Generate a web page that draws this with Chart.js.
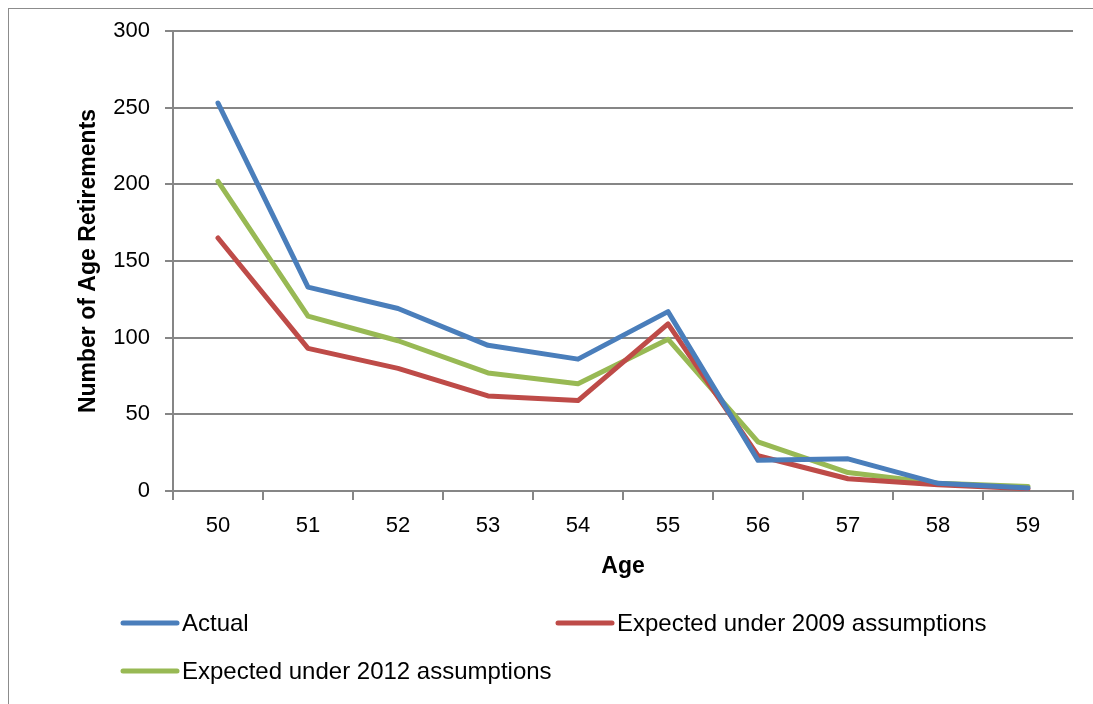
<!DOCTYPE html>
<html>
<head>
<meta charset="utf-8">
<script src="https://cdn.jsdelivr.net/npm/chart.js@4"></script>
<style>
  html, body { margin: 0; padding: 0; background: #ffffff; }
  #wrap { width: 1093px; height: 704px; position: relative; }
</style>
</head>
<body>
<div id="wrap"><canvas id="chart" width="1093" height="704"></canvas></div>
<script>
// Retirements by age: observed counts vs. two sets of actuarial assumptions
const ages = ['50', '51', '52', '53', '54', '55', '56', '57', '58', '59'];
const actual = [253, 133, 119, 95, 86, 117, 20, 21, 5, 2];
const expected2009 = [165, 93, 80, 62, 59, 109, 23, 8, 4, 1.5];
const expected2012 = [202, 114, 98, 77, 70, 99, 32, 12, 5, 3];
const yTicks = [0, 50, 100, 150, 200, 250, 300];

const seriesNames = ['Actual', 'Expected under 2009 assumptions', 'Expected under 2012 assumptions'];
const seriesColors = ['#4a7ebb', '#be4b48', '#98b954'];
const FONT = '"Liberation Sans", Arial, sans-serif';
const GRID = '#868686';

// Outer frame around the whole chart object
const framePlugin = {
  id: 'frame',
  beforeDraw(chart) {
    const ctx = chart.ctx;
    ctx.save();
    ctx.fillStyle = '#ffffff';
    ctx.fillRect(0, 0, chart.width, chart.height);
    ctx.strokeStyle = '#8c8c8c';
    ctx.lineWidth = 1;
    ctx.strokeRect(8.5, 8.5, chart.width + 20, chart.height + 20);
    ctx.restore();
  }
};

// Two-column legend under the axis title
const legendPlugin = {
  id: 'sideLegend',
  afterDraw(chart) {
    const ctx = chart.ctx;
    const slots = [
      { x: 123, y: 623 },
      { x: 558, y: 623 },
      { x: 123, y: 671 }
    ];
    ctx.save();
    ctx.font = '24px ' + FONT;
    ctx.textBaseline = 'middle';
    ctx.textAlign = 'left';
    chart.data.datasets.forEach((ds, i) => {
      const s = slots[i];
      ctx.strokeStyle = ds.borderColor;
      ctx.lineWidth = 5;
      ctx.lineCap = 'round';
      ctx.beginPath();
      ctx.moveTo(s.x, s.y);
      ctx.lineTo(s.x + 54, s.y);
      ctx.stroke();
      ctx.fillStyle = '#000000';
      ctx.fillText(ds.label, s.x + 59, s.y + 1);
    });
    ctx.restore();
  }
};

const datasets = [actual, expected2009, expected2012].map((vals, i) => ({
  label: seriesNames[i],
  data: vals,
  borderColor: seriesColors[i],
  backgroundColor: seriesColors[i],
  borderWidth: 5,
  borderJoinStyle: 'round',
  borderCapStyle: 'round',
  pointRadius: 0,
  pointHoverRadius: 0,
  tension: 0,
  fill: false
}));

new Chart(document.getElementById('chart'), {
  type: 'line',
  data: { labels: ages, datasets },
  options: {
    responsive: false,
    animation: false,
    events: [],
    layout: { padding: { left: 0, top: 31, right: 20, bottom: 113 } },
    plugins: {
      legend: { display: false },
      tooltip: { enabled: false }
    },
    scales: {
      x: {
        offset: true,
        grid: {
          offset: true,
          drawOnChartArea: false,
          drawTicks: true,
          tickLength: 9,
          color: GRID,
          lineWidth: 2
        },
        border: { color: GRID, width: 2 },
        ticks: {
          color: '#000000',
          font: { family: FONT, size: 22 },
          padding: 13,
          maxRotation: 0
        },
        title: {
          display: true,
          text: 'Age',
          color: '#000000',
          font: { family: FONT, size: 23, weight: 'bold' },
          padding: { top: 0, bottom: 11 }
        },
        afterFit(scale) { scale.height = 100; }
      },
      y: {
        min: 0,
        max: 300,
        afterBuildTicks(scale) { scale.ticks = yTicks.map(v => ({ value: v })); },
        grid: {
          color: GRID,
          lineWidth: 2,
          drawTicks: true,
          tickLength: 8
        },
        border: { color: GRID, width: 2 },
        ticks: {
          color: '#000000',
          font: { family: FONT, size: 22 },
          padding: 15
        },
        title: {
          display: true,
          text: 'Number of Age Retirements',
          color: '#000000',
          font: { family: FONT, size: 23, weight: 'bold' },
          padding: { top: 75, bottom: 0 }
        },
        afterFit(scale) { scale.width = 173; }
      }
    }
  },
  plugins: [framePlugin, legendPlugin]
});
</script>
</body>
</html>
